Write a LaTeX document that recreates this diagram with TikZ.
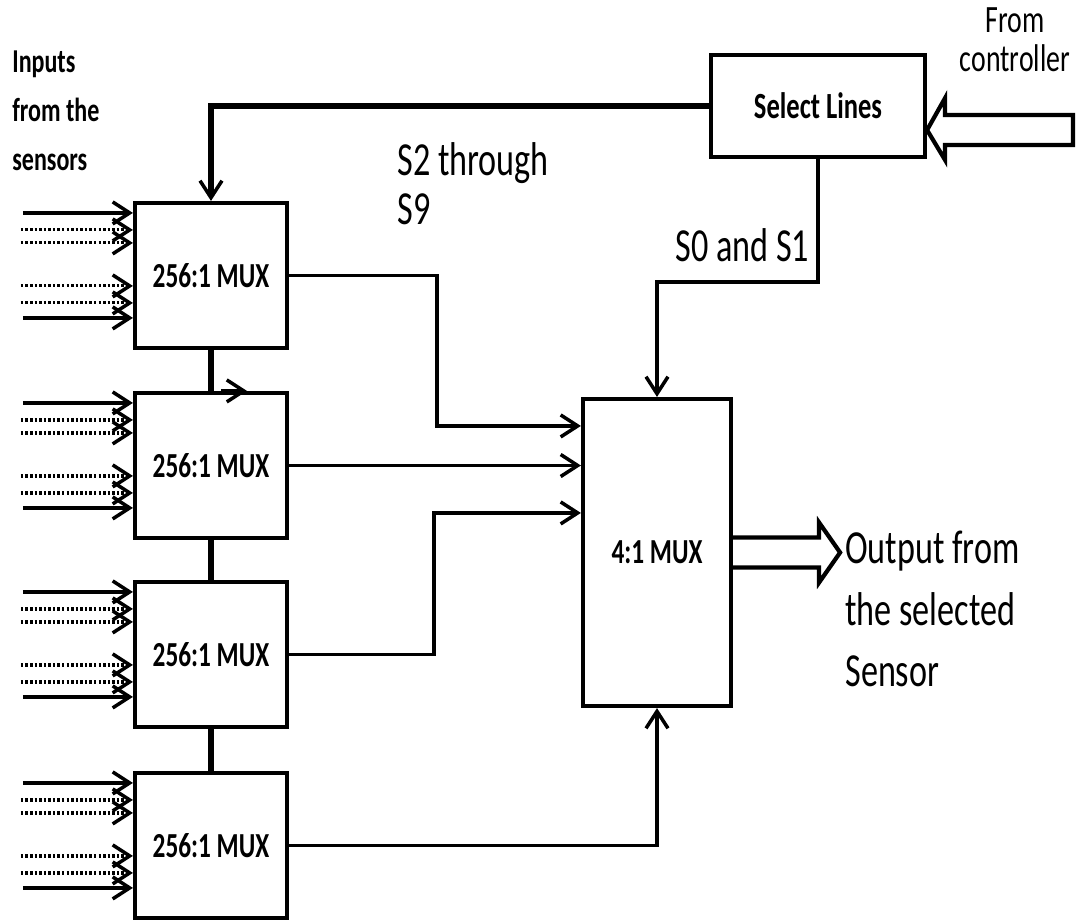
\documentclass[tikz,border=0pt]{standalone}
\usepackage{fontspec}
\setmainfont{Carlito}[FakeStretch=0.72]
\usetikzlibrary{arrows.meta,calc}

\begin{document}
\begin{tikzpicture}[
    x=0.02cm, y=-0.02cm,
    every node/.style={font=\fontsize{27}{35}\selectfont},
    mux/.style={rectangle, draw, line width=2.4pt, minimum width=3.04cm,
                minimum height=2.9cm, inner sep=0pt,
                font=\bfseries\fontsize{20}{22}\selectfont},
    wire/.style={line width=2pt},
    bus/.style={line width=3.4pt},
    e/.style={-{Straight Barb[length=3.4mm, width=4.4mm, line width=2pt]}},
    dots/.style={line width=1.8pt, dash pattern=on 1.4pt off 1.2pt},
    hollow/.style={line width=2.4pt, line join=miter},
    txt/.style={align=left, inner sep=0pt, anchor=north west},
  ]
  \useasboundingbox (0,0) rectangle (1079,921);

  % blocks
  \node[mux] (m1) at (211, 275.5) {256:1 MUX};
  \node[mux] (m2) at (211, 465.5) {256:1 MUX};
  \node[mux] (m3) at (211, 654.5) {256:1 MUX};
  \node[mux] (m4) at (211, 845.5) {256:1 MUX};
  \node[mux, minimum width=2.96cm, minimum height=6.14cm] (mx) at (657, 552.5) {4:1 MUX};
  \node[mux, minimum width=4.28cm, minimum height=2.04cm,
        font=\bfseries\fontsize{21}{22}\selectfont] (sel) at (818, 106) {Select Lines};

  % sensor inputs
  \foreach \m in {1,...,4} {
    \foreach \dy in {12,117}
      \draw[wire, e] ($(m\m.north west)+(-110,\dy)$) -- ($(m\m.north west)+(0,\dy)$);
    \foreach \dy in {29,42,85,102}
      \draw[dots, e] ($(m\m.north west)+(-112,\dy)$) -- ($(m\m.north west)+(0,\dy)$);
  }

  % chain between the 256:1 muxes
  \draw[bus] (m1.south) -- (m2.north);
  \draw[bus] (m2.south) -- (m3.north);
  \draw[bus] (m3.south) -- (m4.north);
  \draw[wire, e] ($(m2.north)+(10,0)$) -- ($(m2.north)+(36,0)$);

  % select lines
  \draw[bus, e] (sel.west) -| (m1.north);
  \draw[wire, e] (sel.south) -- ++(0,123) -| (mx.north);
  \node[txt, font=\fontsize{27}{28}\selectfont] (s29) at (397, 142) {S2 through\\S9};
  \node[txt, anchor=south west] (s01) at (675, 262) {S0 and S1};

  % into the 4:1 mux
  \coordinate (in1) at ($(mx.north west)+(0,29)$);
  \coordinate (in3) at ($(mx.north west)+(0,116)$);
  \draw[wire, e] (m1.east) -- ++(148,0) |- (in1);
  \draw[wire, e] (m2.east) -- (m2.east -| mx.west);
  \draw[wire, e] (m3.east) -- ++(145,0) |- (in3);
  \draw[wire, e] (m4.east) -| (mx.south);

  % hollow arrows
  \draw[hollow] ($(mx.east)+(0,-15)$) -- ++(86,0) -- ++(0,-15) -- ++(21,30)
    -- ++(-21,30) -- ++(0,-15) -- ++(-86,0);
  \draw[hollow] ($(sel.east)+(0,24)$) -- ++(18,-32) -- ++(0,17) -- ++(128,0)
    -- ++(0,30) -- ++(-128,0) -- ++(0,15) -- cycle;

  % labels
  \node[txt, font=\bfseries\fontsize{19}{28}\selectfont] (inl) at (12, 50) {Inputs\\from the\\sensors};
  \node[align=center, inner sep=0pt, font=\fontsize{22}{22}\selectfont] (ctl) at (1015, 40) {From\\controller};
  \node[txt] (outl) at (845, 531) {Output from\\the selected\\Sensor};
\end{tikzpicture}
\end{document}
